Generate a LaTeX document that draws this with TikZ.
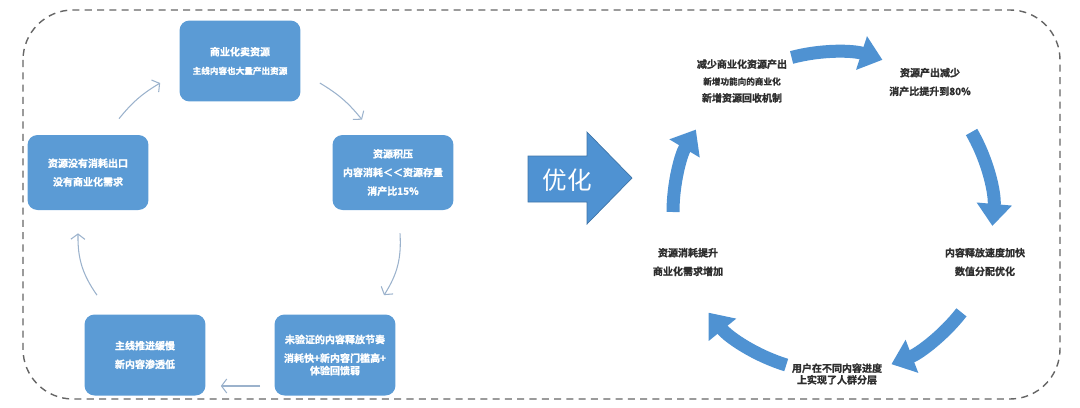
\documentclass[tikz,border=0pt]{standalone}
\usepackage{fontspec}
\setmainfont{Noto Sans CJK SC}[BoldFont={Noto Sans CJK SC Bold}, BoldFeatures={FakeBold=1.2}]
\usetikzlibrary{arrows.meta}
\definecolor{boxblue}{HTML}{5B9BD5}
\definecolor{ringblue}{HTML}{4F92D2}
\definecolor{thinblue}{HTML}{9BB2CC}
\definecolor{inkgrey}{HTML}{2E2E2E}
\newcommand{\smalltxt}{\fontsize{4.9}{8}\selectfont}
\begin{document}
\begin{tikzpicture}[x=0.02cm, y=-0.02cm,
  box/.style={fill=boxblue, rounded corners=0.2cm, text=white, align=center,
    font=\fontsize{5.7}{10.6}\selectfont\bfseries, minimum width=2.42cm, inner sep=0pt},
  flow/.style={thinblue, line width=0.6pt, -{Straight Barb[length=3pt, width=8pt]}},
  ring/.style={ringblue, line width=0.26cm, -{Triangle[width=0.68cm, length=0.44cm]}},
  note/.style={text=inkgrey, align=center, font=\fontsize{5.7}{10.6}\selectfont\bfseries}]
\useasboundingbox (0,0) rectangle (1080,407);
\draw[gray!80!black, line width=0.8pt, dash pattern=on 4pt off 3pt, rounded corners=1cm]
  (23,10) rectangle (1060,399);

\node[box, minimum height=1.62cm] (sell) at (240,61) {商业化卖资源\\{\smalltxt 主线内容也大量产出资源}};
\node[box, minimum height=1.5cm] (nosink) at (88,172.5) {资源没有消耗出口\\没有商业化需求};
\node[box, minimum height=1.5cm] (pile) at (393,172.5) {资源积压\\内容消耗＜＜资源存量\\消产比15\%};
\node[box, minimum height=1.62cm] (slow) at (145,355) {主线推进缓慢\\新内容渗透低};
\node[box, minimum height=1.62cm] (release) at (335,355) {未验证的内容释放节奏\\消耗快+新内容门槛高+\\[-3.5pt]体验回馈弱};

\draw[flow] ([shift={(31,-16)}]nosink.north) to[bend left=10] ([shift={(-19,22)}]sell.west);
\draw[flow] ([shift={(19,22)}]sell.east) to[bend left=10] ([shift={(-31,-15)}]pile.north);
\draw[flow] ([shift={(7,23)}]pile.south) to[bend left=18] ([shift={(49,-19)}]release.north);
\draw[flow] ([shift={(-14,31)}]release.west) -- ([shift={(15,31)}]slow.east);
\draw[flow] ([shift={(-48,-19)}]slow.north) to[bend left=18] ([shift={(-10,23)}]nosink.south);

\filldraw[fill=ringblue, draw=ringblue!80!black, line width=0.4pt]
  (528,156) -- (587,156) -- (587,132) -- (632,178) -- (587,224) -- (587,202) -- (528,202) -- cycle;
\node[text=white, font=\fontsize{14}{16}\selectfont] (opt) at (567,180) {优化};

\node[note] (cut) at (742,81) {减少商业化资源产出\\[-1pt]{\smalltxt 新增功能向的商业化}\\[-1pt]新增资源回收机制};
\node[note] (less) at (930,82) {资源产出减少\\消产比提升到80\%};
\node[note] (fast) at (985,262) {内容释放速度加快\\数值分配优化};
\node[note] (layer) at (837,374) {用户在不同内容进度\\[-4pt]上实现了人群分层};
\node[note] (more) at (688,262) {资源消耗提升\\商业化需求增加};

\coordinate (hub) at (833,212);
\begin{scope}[shift={(hub)}, x=0.02cm, y=0.02cm]
\draw[ring] (105:160) arc[start angle=105, end angle=72, radius=160];
\draw[ring] (30:160) arc[start angle=30, end angle=-5, radius=160];
\draw[ring] (-38:163) arc[start angle=-38, end angle=-69, radius=163];
\draw[ring] (-107:160) arc[start angle=-107, end angle=-141, radius=160];
\draw[ring] (180:160) arc[start angle=180, end angle=149, radius=160];
\end{scope}
\end{tikzpicture}
\end{document}
